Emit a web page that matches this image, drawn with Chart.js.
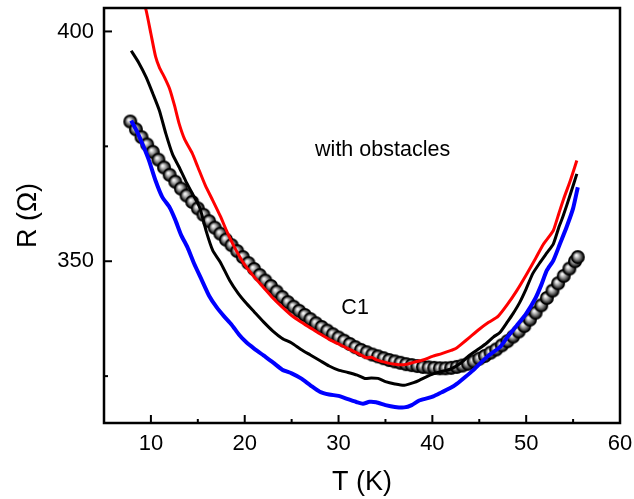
<!DOCTYPE html>
<html>
<head>
<meta charset="utf-8">
<script src="https://cdn.jsdelivr.net/npm/chart.js@4"></script>
<style>
  html, body { margin: 0; padding: 0; background: #fff; }
  #wrap { width: 634px; height: 499px; position: relative; }
</style>
</head>
<body>
<div id="wrap"><canvas id="rtChart"></canvas></div>
<script>
// C1 sample (spheres)
const c1T = [7.8, 8.4, 9.0, 9.6, 10.2, 10.8, 11.4, 12.0, 12.6, 13.2, 13.8, 14.4, 15.0, 15.6, 16.2, 16.8,
  17.4, 18.0, 18.6, 19.2, 19.8, 20.4, 21.0, 21.6, 22.2, 22.8, 23.4, 24.0, 24.6, 25.2, 25.8, 26.4,
  27.0, 27.6, 28.2, 28.8, 29.4, 30.0, 30.6, 31.2, 31.8, 32.4, 33.0, 33.6, 34.2, 34.8, 35.4, 36.0,
  36.6, 37.2, 37.8, 38.4, 39.0, 39.6, 40.2, 40.8, 41.4, 42.0, 42.6, 43.2, 43.8, 44.4, 45.0, 45.6,
  46.2, 46.8, 47.4, 48.0, 48.6, 49.2, 49.8, 50.4, 51.0, 51.6, 52.2, 52.8, 53.4, 54.0, 54.6, 55.2, 55.5];
const c1R = [380.4, 378.7, 377.0, 375.4, 373.8, 372.1, 370.4, 368.8, 367.3, 365.8, 364.3, 362.9, 361.5, 360.1, 358.7, 357.3,
  356.0, 354.7, 353.5, 352.2, 350.9, 349.6, 348.3, 347.0, 345.8, 344.6, 343.4, 342.2, 341.1, 340.1, 339.2, 338.3,
  337.4, 336.5, 335.7, 334.9, 334.1, 333.4, 332.7, 332.0, 331.3, 330.7, 330.2, 329.7, 329.3, 328.9, 328.5, 328.2,
  327.9, 327.6, 327.4, 327.2, 327.0, 326.9, 326.8, 326.7, 326.7, 326.8, 327.0, 327.3, 327.7, 328.2, 328.8, 329.4,
  330.1, 330.8, 331.7, 332.6, 333.6, 334.7, 335.9, 337.3, 338.8, 340.4, 342.0, 343.6, 345.2, 346.8, 348.4, 350.0, 350.9];

// red curve
const redT = [9.0, 9.5, 10.0, 10.5, 10.9, 11.5, 12.0, 12.5, 13.0, 13.6, 14.4, 15.0, 15.8, 16.6, 17.4, 18.2, 19.1,
  20.0, 21.0, 22.0, 23.0, 24.0, 25.0, 26.0, 27.0, 28.0, 29.0, 30.0, 31.0, 32.0, 33.0, 33.5, 34.0, 35.0,
  36.0, 37.0, 38.0, 39.0, 40.0, 41.0, 42.0, 42.5, 43.0, 44.0, 45.0, 46.0, 47.0, 48.0, 49.0, 50.0, 51.0,
  51.8, 52.5, 52.9, 53.5, 54.0, 54.7, 55.4];
const redR = [408.0, 404.5, 399.5, 394.5, 392.2, 389.8, 387.5, 384.0, 380.0, 376.5, 373.5, 370.5, 366.5, 363.2, 359.8, 356.0, 352.3,
  349.2, 346.6, 344.3, 342.0, 340.0, 338.2, 336.8, 335.5, 334.2, 333.0, 332.0, 331.0, 330.0, 329.0, 329.1, 328.6, 328.0,
  327.6, 327.5, 328.0, 328.5, 329.3, 329.9, 330.6, 331.0, 331.8, 333.5, 335.2, 336.7, 338.0, 340.6, 343.6, 347.0, 350.6,
  353.6, 355.5, 356.7, 360.5, 363.6, 367.5, 371.9];

// black curve
const blackT = [7.9, 8.7, 9.5, 10.2, 10.9, 11.6, 12.3, 13.0, 13.7, 14.4, 15.2, 15.9, 16.6, 17.4, 18.4, 19.3, 20.1,
  21.0, 22.0, 23.0, 24.0, 25.0, 26.0, 27.0, 28.0, 29.0, 30.0, 31.0, 32.0, 32.8, 33.5, 34.2, 35.0, 36.0,
  37.0, 38.0, 38.6, 39.3, 40.1, 41.0, 42.0, 43.0, 44.0, 45.0, 45.8, 46.5, 47.2, 48.0, 48.6, 49.3, 50.0,
  50.7, 51.4, 52.2, 52.9, 53.5, 53.9, 54.7, 55.4];
const blackR = [395.8, 393.2, 390.0, 386.5, 382.8, 377.7, 373.3, 370.5, 367.5, 364.8, 361.7, 356.5, 352.3, 349.8, 345.8, 343.0, 341.0,
  339.0, 336.8, 334.8, 333.2, 332.2, 330.8, 329.6, 328.4, 327.2, 326.3, 325.8, 325.2, 324.5, 324.6, 324.5, 323.8, 323.3,
  323.0, 323.6, 324.1, 324.8, 325.5, 326.0, 326.6, 327.8, 329.6, 331.0, 332.2, 333.5, 334.5, 336.8, 338.6, 341.0, 344.0,
  347.3, 349.5, 351.8, 353.8, 357.5, 359.6, 364.5, 369.0];

// blue curve
const blueT = [7.9, 8.5, 9.2, 9.8, 10.5, 11.2, 12.0, 12.6, 13.2, 13.9, 14.6, 15.4, 16.2, 17.0, 17.8, 18.6, 19.4,
  20.2, 21.0, 22.0, 23.0, 24.0, 25.0, 26.0, 27.0, 28.0, 29.0, 30.0, 31.0, 32.0, 32.6, 33.3, 34.0, 35.0,
  36.0, 37.0, 37.8, 38.6, 39.5, 40.1, 41.0, 42.0, 42.6, 43.5, 44.3, 45.2, 46.0, 47.2, 48.0, 49.0, 50.0,
  51.0, 51.6, 52.2, 52.9, 53.6, 54.3, 55.0, 55.5];
const blueR = [380.6, 378.3, 375.0, 371.9, 367.5, 364.0, 361.7, 359.0, 355.8, 353.0, 349.5, 346.0, 342.5, 340.0, 338.0, 336.2, 334.0,
  332.3, 331.0, 329.5, 328.0, 326.4, 325.6, 324.5, 323.0, 321.6, 321.0, 320.7, 320.0, 319.3, 319.0, 319.4, 319.3, 318.7,
  318.3, 318.2, 318.7, 319.7, 320.2, 320.6, 321.5, 322.5, 323.3, 324.8, 326.2, 328.0, 329.5, 331.3, 333.5, 336.0, 338.6,
  342.0, 344.8, 348.0, 350.2, 353.8, 357.4, 361.5, 366.1];

// axis ticks (labels shown only for these)
const xLabels = [10, 20, 30, 40, 50, 60];
const yLabels = [350, 400];

const pairs = (xs, ys) => xs.map((x, i) => ({ x: x, y: ys[i] }));

// shaded sphere marker with a dark rim
function makeSphere(r) {
  const size = Math.ceil(r * 2) + 2;
  const c = document.createElement("canvas");
  c.width = size;
  c.height = size;
  const g = c.getContext("2d");
  const cx = size / 2, cy = size / 2;
  g.fillStyle = "#000";
  g.beginPath();
  g.arc(cx, cy, r, 0, Math.PI * 2);
  g.fill();
  const ri = r - 1.4;
  const grad = g.createRadialGradient(cx - ri * 0.3, cy - ri * 0.35, 0.2, cx, cy, ri);
  grad.addColorStop(0, "#ffffff");
  grad.addColorStop(0.25, "#d4d4d4");
  grad.addColorStop(0.6, "#808080");
  grad.addColorStop(0.9, "#2c2c2c");
  grad.addColorStop(1, "#111111");
  g.fillStyle = grad;
  g.beginPath();
  g.arc(cx, cy, ri, 0, Math.PI * 2);
  g.fill();
  return c;
}
const sphere = makeSphere(7);

// frame, inward ticks and annotations
const framePlugin = {
  id: "frame",
  afterDatasetsDraw(chart) {
    const { ctx, chartArea: a, scales } = chart;
    ctx.save();
    ctx.strokeStyle = "#000";
    ctx.lineWidth = 2.5;
    ctx.strokeRect(a.left, a.top, a.right - a.left, a.bottom - a.top);

    ctx.lineWidth = 2;
    scales.x.ticks.forEach(t => {
      const px = scales.x.getPixelForValue(t.value);
      const len = t.value % 10 === 0 ? 8 : 4;
      ctx.beginPath();
      ctx.moveTo(px, a.bottom);
      ctx.lineTo(px, a.bottom - len);
      ctx.stroke();
    });
    scales.y.ticks.forEach(t => {
      const py = scales.y.getPixelForValue(t.value);
      const len = t.value % 50 === 0 ? 8 : 4;
      ctx.beginPath();
      ctx.moveTo(a.left, py);
      ctx.lineTo(a.left + len, py);
      ctx.stroke();
    });

    ctx.fillStyle = "#000";
    ctx.font = "21.5px 'Liberation Sans', Arial, sans-serif";
    ctx.textAlign = "left";
    ctx.textBaseline = "alphabetic";
    ctx.fillText("with obstacles", scales.x.getPixelForValue(27.5), scales.y.getPixelForValue(373));
    ctx.fillText("C1", scales.x.getPixelForValue(30.3), scales.y.getPixelForValue(338.6));
    ctx.restore();
  }
};

const lineStyle = (color, width) => ({
  borderColor: color,
  backgroundColor: color,
  borderWidth: width,
  pointRadius: 0,
  tension: 0.2,
  fill: false
});

const noPad = s => {
  s.paddingTop = 0;
  s.paddingBottom = 0;
  s.paddingLeft = 0;
  s.paddingRight = 0;
};

new Chart(document.getElementById("rtChart"), {
  type: "line",
  data: {
    datasets: [
      { label: "blue", data: pairs(blueT, blueR), order: 1, ...lineStyle("#0000ff", 4) },
      { label: "red", data: pairs(redT, redR), order: 2, ...lineStyle("#ff0000", 3) },
      { label: "black", data: pairs(blackT, blackR), order: 3, ...lineStyle("#000000", 3) },
      {
        label: "C1",
        data: pairs(c1T, c1R),
        order: 4,
        showLine: false,
        pointStyle: sphere,
        pointRadius: 7
      }
    ]
  },
  options: {
    responsive: true,
    maintainAspectRatio: false,
    animation: false,
    layout: { padding: { top: 7, right: 14, left: 0, bottom: 0 } },
    plugins: { legend: { display: false }, tooltip: { enabled: false } },
    scales: {
      x: {
        type: "linear",
        min: 5,
        max: 60,
        grid: { display: false, drawTicks: false },
        border: { display: false },
        ticks: {
          stepSize: 5,
          includeBounds: false,
          padding: 8,
          color: "#000",
          font: { family: "'Liberation Sans', Arial, sans-serif", size: 22 },
          maxRotation: 0,
          autoSkip: false,
          callback: v => (xLabels.includes(v) ? String(v) : "")
        },
        title: {
          display: true,
          text: "T (K)",
          color: "#000",
          font: { family: "'Liberation Sans', Arial, sans-serif", size: 27 },
          padding: { top: 0, bottom: 0 }
        },
        afterFit: s => { s.height = 76; noPad(s); }
      },
      y: {
        min: 314.8,
        max: 405.1,
        grid: { display: false, drawTicks: false },
        border: { display: false },
        ticks: {
          stepSize: 25,
          includeBounds: false,
          padding: 10,
          color: "#000",
          font: { family: "'Liberation Sans', Arial, sans-serif", size: 22 },
          autoSkip: false,
          callback: v => (yLabels.includes(v) ? String(v) : "")
        },
        title: {
          display: true,
          text: "R (Ω)",
          color: "#000",
          font: { family: "'Liberation Sans', Arial, sans-serif", size: 27 },
          padding: { top: 12, bottom: 0 }
        },
        afterFit: s => { s.width = 104; noPad(s); }
      }
    }
  },
  plugins: [framePlugin]
});
</script>
</body>
</html>
